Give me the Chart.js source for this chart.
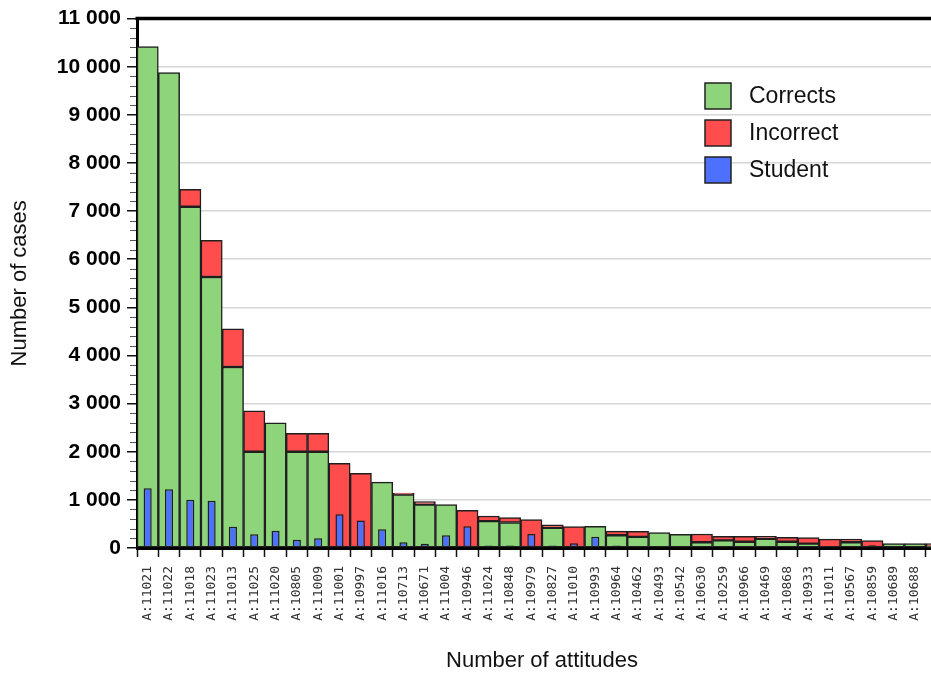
<!DOCTYPE html>
<html>
<head>
<meta charset="utf-8">
<script src="https://cdn.jsdelivr.net/npm/chart.js@4.4.0/dist/chart.umd.min.js"></script>
<style>
html,body{margin:0;padding:0;background:#fff;overflow:hidden;width:931px;height:676px}
#wrap{width:947px;height:676px;position:relative}
</style>
</head>
<body>
<div id="wrap"><canvas id="c" width="947" height="676"></canvas></div>
<script>
const categories = ['A:11021','A:11022','A:11018','A:11023','A:11013','A:11025','A:11020','A:10805','A:11009','A:11001',
  'A:10997','A:11016','A:10713','A:10671','A:11004','A:10946','A:11024','A:10848','A:10979','A:10827',
  'A:11010','A:10993','A:10964','A:10462','A:10493','A:10542','A:10630','A:10259','A:10966','A:10469',
  'A:10868','A:10933','A:11011','A:10567','A:10859','A:10689','A:10688','A:07720'];
const corrects = [10420, 9880, 7090, 5630, 3760, 2000, 2600, 2000, 2000, 0,
  0, 1370, 1110, 900, 900, 0, 560, 530, 0, 420,
  0, 450, 265, 230, 320, 285, 120, 160, 130, 190,
  130, 90, 0, 120, 0, 90, 90, 30];
const incorrect = [0, 0, 360, 765, 795, 850, 0, 385, 385, 1760,
  1550, 0, 30, 65, 0, 785, 105, 100, 590, 60,
  445, 0, 85, 115, 0, 0, 170, 85, 115, 55,
  90, 125, 185, 65, 155, 0, 0, 60];
const student = [1240, 1220, 1000, 980, 440, 285, 360, 170, 200, 700,
  570, 390, 120, 90, 265, 450, 50, 50, 290, 50,
  100, 235, 50, null, null, null, null, null, null, null,
  null, 40, 40, null, 55, null, null, null];
const seriesNames = ['Corrects', 'Incorrect', 'Student'];
const yMin = 0, yMax = 11000, yStep = 1000, yMinorStep = 200;

function fmt(v){ return String(v).replace(/\B(?=(\d{3})+(?!\d))/g, ' '); }

const deco = {
  id: 'deco',
  afterDraw(chart){
    const {ctx, chartArea: a, scales: {y}} = chart;
    ctx.save();
    ctx.strokeStyle = '#555'; ctx.lineWidth = 1;
    for (let v = yMin; v <= yMax; v += yMinorStep) {
      if (v % yStep === 0) continue;
      const py = Math.round(y.getPixelForValue(v)) + 0.5;
      ctx.beginPath(); ctx.moveTo(a.left - 7, py); ctx.lineTo(a.left - 1, py); ctx.stroke();
    }
    ctx.strokeStyle = '#000'; ctx.lineWidth = 3.5;
    ctx.beginPath(); ctx.moveTo(a.left - 1.5, a.top); ctx.lineTo(a.right + 10, a.top); ctx.stroke();
    // legend
    const lx = 705, ly = 83, gap = 37, sz = 26;
    ctx.font = "23px 'Liberation Sans', Arial, sans-serif";
    ctx.textBaseline = 'middle';
    chart.data.datasets.forEach((ds, i) => {
      const yy = ly + i * gap;
      ctx.fillStyle = ds.backgroundColor;
      ctx.fillRect(lx, yy, sz, sz);
      ctx.strokeStyle = '#222'; ctx.lineWidth = 1.5;
      ctx.strokeRect(lx, yy, sz, sz);
      ctx.fillStyle = '#111';
      ctx.fillText(ds.label, 749, yy + sz / 2 + 1);
    });
    ctx.restore();
  }
};

Chart.defaults.font.family = "'Liberation Sans', Arial, sans-serif";
new Chart(document.getElementById('c'), {
  type: 'bar',
  data: {
    labels: categories,
    datasets: [
      {label: seriesNames[0], data: corrects, backgroundColor: '#8DD47B', borderColor: '#1f1f1f', borderWidth: 1.5, borderSkipped: false, stack: 'a', order: 2, categoryPercentage: 1, barPercentage: 1},
      {label: seriesNames[1], data: incorrect, backgroundColor: '#FF4D4D', borderColor: '#1f1f1f', borderWidth: 1.5, borderSkipped: false, stack: 'a', order: 2, categoryPercentage: 1, barPercentage: 1},
      {label: seriesNames[2], data: student, backgroundColor: '#4D70FF', borderColor: '#1f1f1f', borderWidth: 1.5, borderSkipped: false, stack: 'b', grouped: false, order: 1, categoryPercentage: 1, barPercentage: 0.38}
    ]
  },
  options: {
    responsive: false, animation: false, devicePixelRatio: 1,
    layout: {padding: {top: 17, right: 0, left: 0, bottom: 0}},
    plugins: {legend: {display: false}, tooltip: {enabled: false}},
    scales: {
      x: {
        stacked: true,
        grid: {drawOnChartArea: false, tickLength: 9, tickColor: '#111', tickWidth: 1.5},
        border: {color: '#000', width: 3},
        ticks: {minRotation: 90, maxRotation: 90, autoSkip: false, padding: 9, color: '#333',
          font: {family: "'DejaVu Sans Mono', monospace", size: 13}},
        title: {display: true, text: 'Number of attitudes', color: '#111', font: {size: 22}, padding: {top: 0, bottom: 2}},
        afterFit(s){ s.height = 128; s.paddingLeft = 0; s.paddingRight = 0; }
      },
      y: {
        stacked: true, min: yMin, max: yMax,
        ticks: {stepSize: yStep, padding: 6, color: '#000', font: {size: 21, weight: 'bold'}, callback: v => fmt(v)},
        grid: {color: '#d6d6d6', lineWidth: 1.5, tickColor: '#111', tickLength: 10, tickWidth: 1.5},
        border: {color: '#000', width: 3},
        title: {display: true, text: 'Number of cases', color: '#111', font: {size: 22}, padding: {top: 7, bottom: 0}},
        afterFit(s){ s.width = 137; }
      }
    }
  },
  plugins: [deco]
});
</script>
</body>
</html>
